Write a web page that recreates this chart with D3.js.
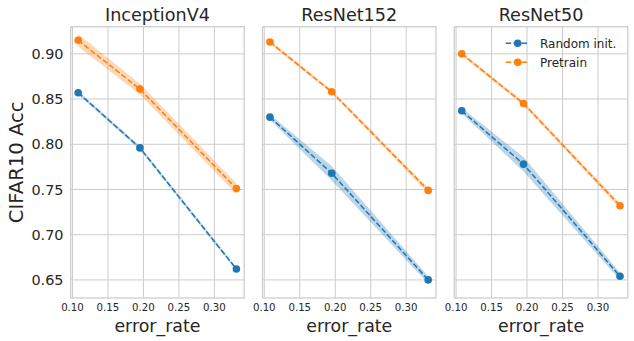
<!DOCTYPE html>
<html>
<head>
<meta charset="utf-8">
<script src="https://cdn.jsdelivr.net/npm/d3@7"></script>
<style>
  body { margin: 0; background: white; }
  text { font-family: 'DejaVu Sans', sans-serif; fill: #262626; }
</style>
</head>
<body>
<div id="chart"></div>
<script>
// data
var models = ['InceptionV4', 'ResNet152', 'ResNet50'];
var errorRates = [0.108, 0.195, 0.331];
var seriesNames = ['Random init.', 'Pretrain'];
var randomInit = [[0.857, 0.796, 0.662], [0.830, 0.768, 0.650], [0.837, 0.778, 0.654]];
var pretrain = [[0.915, 0.861, 0.751], [0.913, 0.858, 0.749], [0.900, 0.845, 0.732]];
// half width of shaded band
var randomInitSpread = [[0.002, 0.002, 0.002], [0.003, 0.008, 0.004], [0.003, 0.008, 0.004]];
var pretrainSpread = [[0.007, 0.006, 0.006], [0.002, 0.002, 0.003], [0.002, 0.002, 0.003]];
var xTicks = [0.10, 0.15, 0.20, 0.25, 0.30];
var yTicks = [0.65, 0.70, 0.75, 0.80, 0.85, 0.90];

var w = 634, h = 341;
var colors = ['#1f77b4', '#ff7f0e'];
var panelLeft = [70.7, 262.5, 454.3];
var panelW = 173.5;
var plotTop = 26.7, plotBottom = 298;

var svg = d3.select('#chart').append('svg')
  .attr('width', w)
  .attr('height', h);

var y = d3.scaleLinear().domain([0.630, 0.930]).range([plotBottom, plotTop]);

models.forEach(function(name, p) {
  var x = d3.scaleLinear().domain([0.0975, 0.342]).range([panelLeft[p], panelLeft[p] + panelW]);
  var g = svg.append('g');

  // grid
  g.selectAll('.vgrid').data(xTicks).enter().append('line')
    .attr('x1', function(d) { return x(d); }).attr('x2', function(d) { return x(d); })
    .attr('y1', plotTop).attr('y2', plotBottom)
    .attr('stroke', '#cccccc').attr('stroke-width', 1);
  g.selectAll('.hgrid').data(yTicks).enter().append('line')
    .attr('y1', function(d) { return y(d); }).attr('y2', function(d) { return y(d); })
    .attr('x1', panelLeft[p]).attr('x2', panelLeft[p] + panelW)
    .attr('stroke', '#cccccc').attr('stroke-width', 1);
  g.append('rect')
    .attr('x', panelLeft[p]).attr('y', plotTop)
    .attr('width', panelW).attr('height', plotBottom - plotTop)
    .attr('fill', 'none').attr('stroke', '#cccccc').attr('stroke-width', 1.25);

  // x tick labels
  g.selectAll('.xt').data(xTicks).enter().append('text')
    .attr('x', function(d) { return x(d); })
    .attr('y', 310.5)
    .attr('text-anchor', 'middle')
    .attr('font-size', '10.2px')
    .text(function(d) { return d.toFixed(2); });

  g.append('text')
    .attr('x', panelLeft[p] + panelW / 2)
    .attr('y', 331.5)
    .attr('text-anchor', 'middle')
    .attr('font-size', '17.4px')
    .text('error_rate');

  g.append('text')
    .attr('x', panelLeft[p] + panelW / 2)
    .attr('y', 20.5)
    .attr('text-anchor', 'middle')
    .attr('font-size', '17.6px')
    .text(name);

  if (p === 0) {
    g.selectAll('.yt').data(yTicks).enter().append('text')
      .attr('x', 63.5)
      .attr('y', function(d) { return y(d); })
      .attr('dy', '0.36em')
      .attr('text-anchor', 'end')
      .attr('font-size', '14.4px')
      .text(function(d) { return d.toFixed(2); });
    g.append('text')
      .attr('transform', 'translate(23,' + ((plotTop + plotBottom) / 2) + ') rotate(-90)')
      .attr('text-anchor', 'middle')
      .attr('font-size', '19.6px')
      .text('CIFAR10 Acc');
  }

  var series = [
    { vals: randomInit[p], spread: randomInitSpread[p] },
    { vals: pretrain[p], spread: pretrainSpread[p] }
  ];

  series.forEach(function(s, si) {
    var pts = errorRates.map(function(e, i) {
      return { x: e, y: s.vals[i], lo: s.vals[i] - s.spread[i], hi: s.vals[i] + s.spread[i] };
    });
    var area = d3.area()
      .x(function(d) { return x(d.x); })
      .y0(function(d) { return y(d.lo); })
      .y1(function(d) { return y(d.hi); });
    g.append('path')
      .attr('d', area(pts))
      .attr('fill', colors[si])
      .attr('fill-opacity', 0.3);
    var line = d3.line()
      .x(function(d) { return x(d.x); })
      .y(function(d) { return y(d.y); });
    g.append('path')
      .attr('d', line(pts))
      .attr('fill', 'none')
      .attr('stroke', colors[si])
      .attr('stroke-width', 1.5)
      .attr('stroke-dasharray', '5.5,2.4');
    g.selectAll('.pt' + si).data(pts).enter().append('circle')
      .attr('cx', function(d) { return x(d.x); })
      .attr('cy', function(d) { return y(d.y); })
      .attr('r', 3.8)
      .attr('fill', colors[si]);
  });

  // legend on last panel
  if (p === models.length - 1) {
    var leg = g.append('g');
    seriesNames.forEach(function(n, i) {
      var ly = 43.3 + i * 19;
      leg.append('line')
        .attr('x1', 505.7).attr('x2', 527.3)
        .attr('y1', ly).attr('y2', ly)
        .attr('stroke', colors[i]).attr('stroke-width', 1.5)
        .attr('stroke-dasharray', '5.5,2.4');
      leg.append('circle')
        .attr('cx', 517.7).attr('cy', ly).attr('r', 3.8)
        .attr('fill', colors[i]);
      leg.append('text')
        .attr('x', 540).attr('y', ly)
        .attr('dy', '0.36em')
        .attr('font-size', '12px')
        .text(n);
    });
  }
});
</script>
</body>
</html>
